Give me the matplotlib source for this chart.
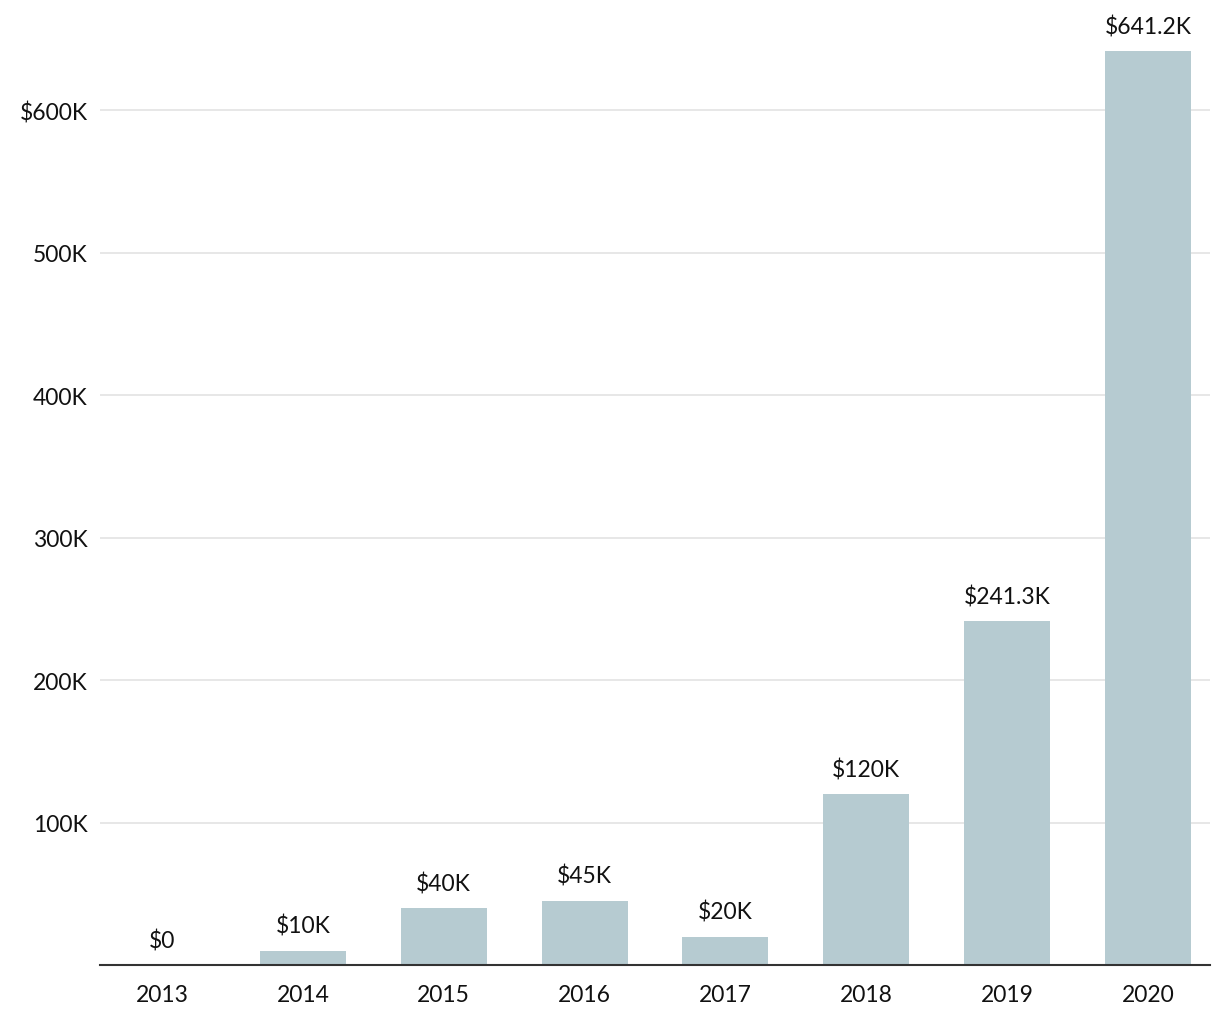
import matplotlib
matplotlib.use("Agg")
import matplotlib.pyplot as plt

years = ["2013", "2014", "2015", "2016", "2017", "2018", "2019", "2020"]
values = [0, 10000, 40000, 45000, 20000, 120000, 241300, 641200]
value_labels = ["$0", "$10K", "$40K", "$45K", "$20K", "$120K", "$241.3K", "$641.2K"]
y_ticks = [100000, 200000, 300000, 400000, 500000, 600000]
y_tick_labels = ["100K", "200K", "300K", "400K", "500K", "$600K"]

plt.rcParams['font.family'] = ['Lato', 'DejaVu Sans']

fig = plt.figure(figsize=(12.2, 10.2), dpi=100)
ax = fig.add_axes([100/1220, 54/1020, 1110/1220, 956/1020])

x = list(range(len(years)))
ax.bar(x, values, width=0.61, color="#b6cbd1", zorder=2)
for xi, v, lab in zip(x, values, value_labels):
    ax.annotate(lab, (xi, v), xytext=(0, 10), textcoords="offset points",
                ha="center", va="bottom", fontsize=16.5, color="#111111")

ax.set_xlim(-0.44, 7.44)
ax.set_ylim(0, 670900)
ax.set_xticks(x)
ax.set_xticklabels(years, fontsize=16.5, color="#111111")
ax.set_yticks(y_ticks)
ax.set_yticklabels(y_tick_labels, fontsize=16.5, color="#111111")
ax.tick_params(axis="both", length=0)
ax.tick_params(axis="x", pad=14)
ax.tick_params(axis="y", pad=9)
ax.grid(axis="y", color="#e3e3e3", linewidth=1.2, zorder=0)
ax.set_axisbelow(True)
for s in ["top", "right", "left"]:
    ax.spines[s].set_visible(False)
ax.spines["bottom"].set_color("#333333")
ax.spines["bottom"].set_linewidth(1.5)
ax.spines["bottom"].set_zorder(3)

fig.savefig("out.png", dpi=100)
